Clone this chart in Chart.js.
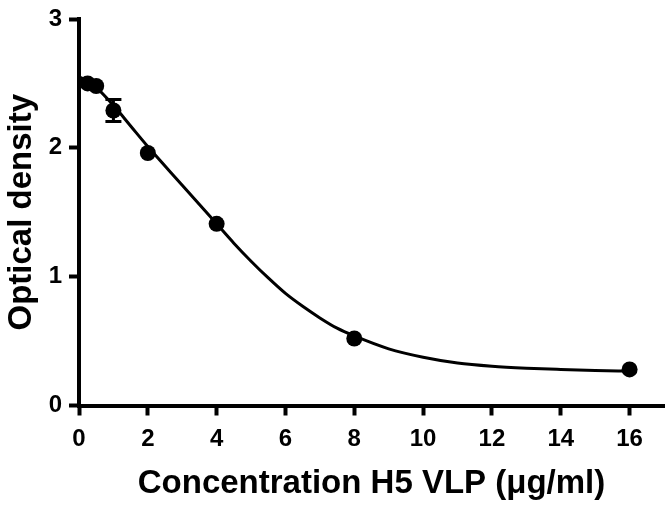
<!DOCTYPE html>
<html>
<head>
<meta charset="utf-8">
<script src="https://cdn.jsdelivr.net/npm/chart.js@4.4.1/dist/chart.umd.min.js"></script>
<style>
  html, body { margin: 0; padding: 0; background: #fff; }
</style>
</head>
<body>
<canvas id="odChart" width="672" height="508"></canvas>
<script>
const concentrations = [0.25, 0.5, 1, 2, 4, 8, 16];
const meanOD = [2.50, 2.48, 2.29, 1.96, 1.41, 0.52, 0.28];
const sdOD = [0, 0, 0.085, 0, 0, 0, 0];

// fitted curve
const fitX = [0, 0.25, 0.5, 1, 1.5, 2, 3, 4, 4.5, 5, 5.5, 6, 6.5, 7, 7.5, 8, 9, 10, 11, 12, 13, 14, 15, 16];
const fitY = [2.55, 2.52, 2.47, 2.33, 2.17, 2.01, 1.71, 1.41, 1.26, 1.12, 0.99, 0.87, 0.77, 0.68, 0.60, 0.54, 0.44, 0.375, 0.33, 0.305, 0.29, 0.28, 0.272, 0.267];

const xTicks = [0, 2, 4, 6, 8, 10, 12, 14, 16];
const yTicks = [0, 1, 2, 3];

const tickFont = { family: "'Liberation Sans', Arial, sans-serif", size: 24, weight: 'bold', lineHeight: 1 };
const titleFont = { family: "'Liberation Sans', Arial, sans-serif", size: 33, weight: 'bold' };

const errorBars = {
  id: 'errorBars',
  afterDatasetsDraw(chart) {
    const ctx = chart.ctx;
    const xs = chart.scales.x;
    const ys = chart.scales.y;
    ctx.save();
    ctx.strokeStyle = '#000';
    ctx.lineWidth = 3;
    concentrations.forEach((c, i) => {
      if (!sdOD[i]) return;
      const px = xs.getPixelForValue(c);
      const top = ys.getPixelForValue(meanOD[i] + sdOD[i]);
      const bot = ys.getPixelForValue(meanOD[i] - sdOD[i]);
      ctx.beginPath();
      ctx.moveTo(px, top); ctx.lineTo(px, bot);
      ctx.moveTo(px - 8, top); ctx.lineTo(px + 8, top);
      ctx.moveTo(px - 8, bot); ctx.lineTo(px + 8, bot);
      ctx.stroke();
    });
    ctx.restore();
  }
};

const ctx = document.getElementById("odChart").getContext("2d");
const chart = new Chart(ctx, {
  type: "scatter",
  data: {
    datasets: [{
      label: "OD",
      data: concentrations.map((c, i) => ({ x: c, y: meanOD[i] })),
      backgroundColor: "#000",
      borderWidth: 0,
      pointRadius: 8,
      order: 0,
      clip: false
    }, {
      label: "Fit",
      data: fitX.map((x, i) => ({ x: x, y: fitY[i] })),
      showLine: true,
      borderColor: "#000",
      borderWidth: 3,
      pointRadius: 0,
      cubicInterpolationMode: "monotone",
      order: 1
    }]
  },
  options: {
    responsive: false,
    animation: false,
    layout: { padding: { top: 13, right: 8, left: 0, bottom: 0 } },
    plugins: {
      legend: { display: false },
      tooltip: { enabled: false }
    },
    scales: {
      x: {
        type: "linear",
        min: 0,
        max: 17,
        afterBuildTicks: s => { s.ticks = xTicks.map(v => ({ value: v })); },
        afterFit: s => { s.height = 102.5; },
        ticks: { font: tickFont, color: "#000", padding: 12 },
        grid: { drawOnChartArea: false, drawTicks: true, tickLength: 10, tickWidth: 4, tickColor: "#000" },
        border: { display: true, color: "#000", width: 4 },
        title: {
          display: true,
          text: "Concentration H5 VLP (μg/ml)",
          font: titleFont,
          color: "#000",
          padding: { top: 0, bottom: 4 }
        }
      },
      y: {
        min: 0,
        max: 3,
        afterBuildTicks: s => { s.ticks = yTicks.map(v => ({ value: v })); },
        afterFit: s => { s.width = 79; },
        ticks: { font: tickFont, color: "#000", padding: 7 },
        grid: { drawOnChartArea: false, drawTicks: true, tickLength: 10, tickWidth: 4, tickColor: "#000" },
        border: { display: true, color: "#000", width: 4 },
        title: {
          display: true,
          text: "Optical density",
          font: titleFont,
          color: "#000",
          padding: { top: 2, bottom: 0 }
        }
      }
    }
  },
  plugins: [errorBars]
});
</script>
</body>
</html>
